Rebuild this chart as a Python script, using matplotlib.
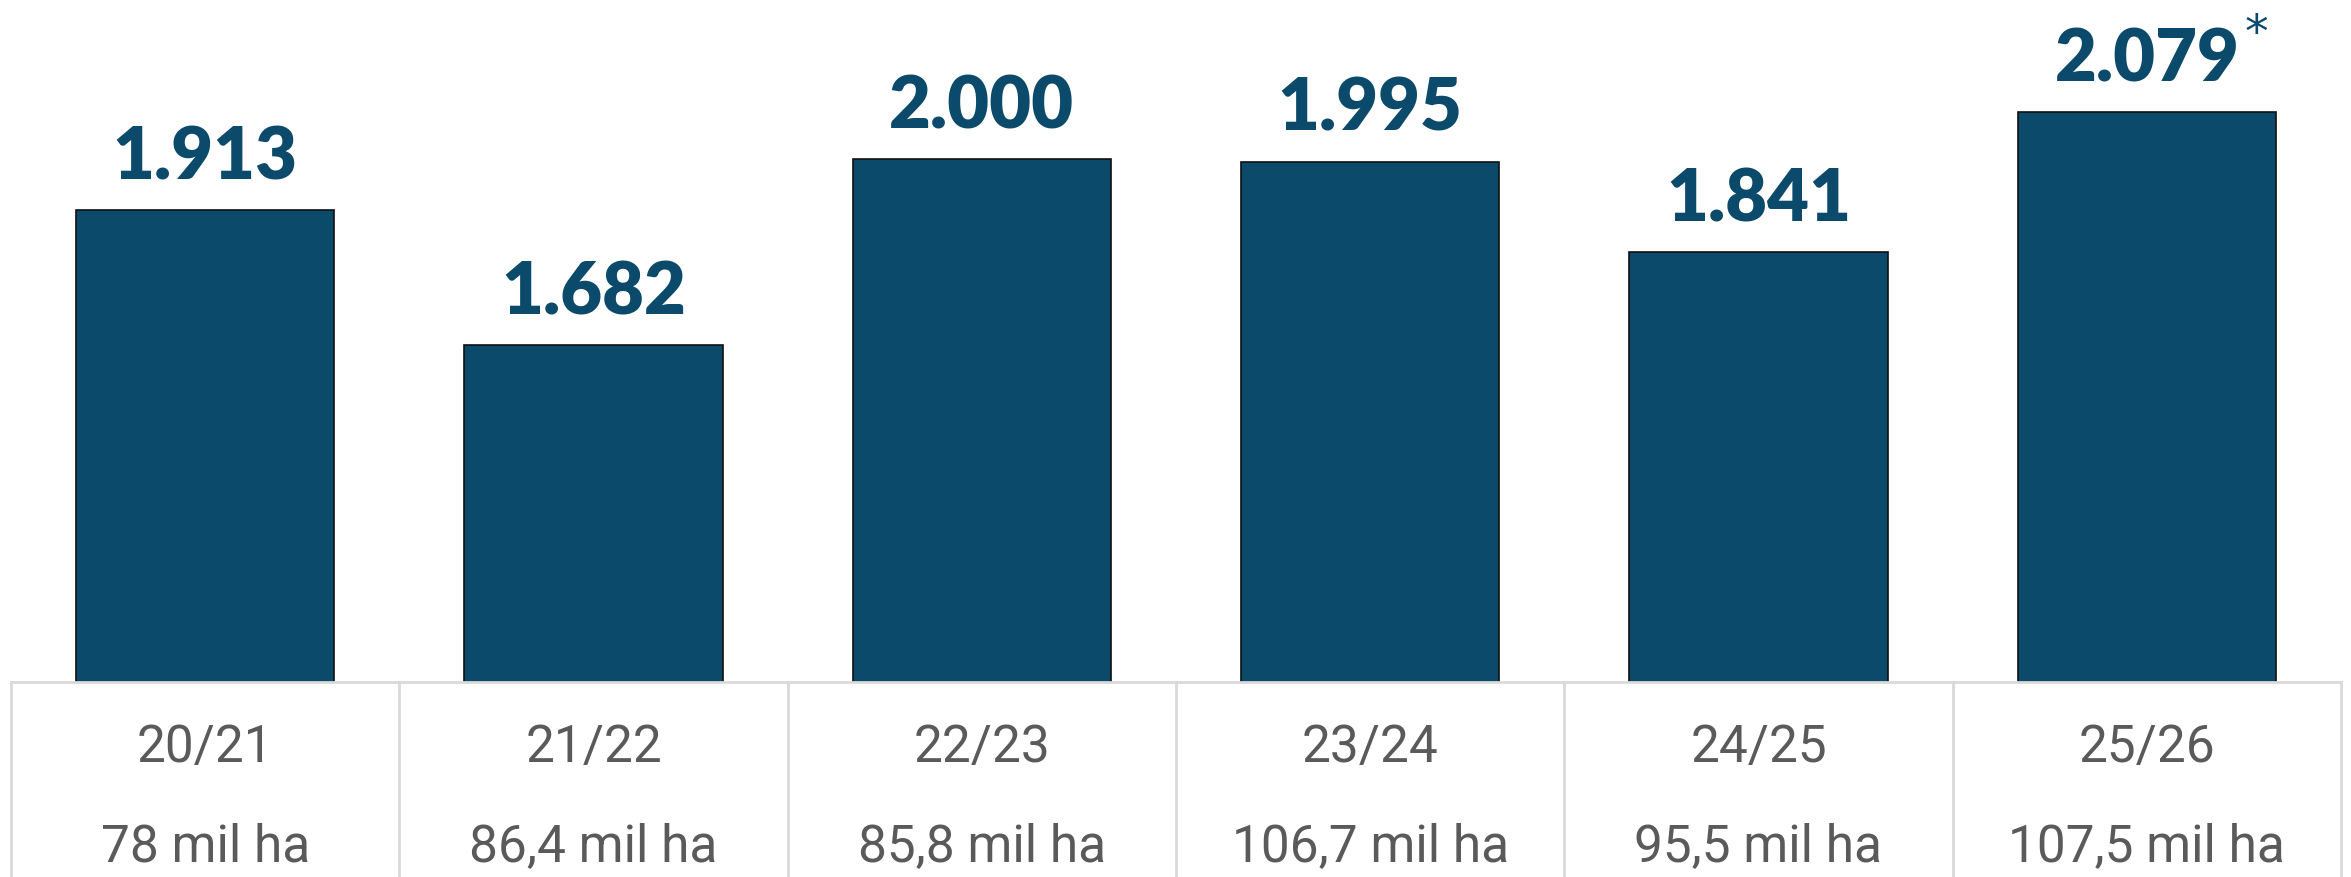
import matplotlib
matplotlib.use("Agg")
import matplotlib.pyplot as plt
import matplotlib.transforms as mtransforms
from matplotlib.lines import Line2D

seasons = ["20/21", "21/22", "22/23", "23/24", "24/25", "25/26"]
values = [1913, 1682, 2000, 1995, 1841, 2079]
value_labels = ["1.913", "1.682", "2.000", "1.995", "1.841", "2.079"]
areas = ["78 mil ha", "86,4 mil ha", "85,8 mil ha", "106,7 mil ha", "95,5 mil ha", "107,5 mil ha"]
flagged = [False, False, False, False, False, True]

W, H = 2351, 877
fig = plt.figure(figsize=(W / 100, H / 100), dpi=100)
fig.patch.set_facecolor("white")

ax_left = 11 / W
ax_right = 2341 / W
ax_bottom = 1 - 682 / H
ax = fig.add_axes([ax_left, ax_bottom, ax_right - ax_left, 1 - ax_bottom])
ax.set_xlim(-0.5, len(seasons) - 0.5)
ax.set_ylim(1109, 2270)
ax.axis("off")

bar_color = "#0b4a6a"
x = list(range(len(seasons)))
ax.bar(x, values, width=0.665, color=bar_color, edgecolor="#111111", linewidth=1.2,
       bottom=0, zorder=2)

for xi, v, lab, fl in zip(x, values, value_labels, flagged):
    ax.annotate(lab, (xi, v), xytext=(0, 22), textcoords="offset points",
                ha="center", va="baseline", fontsize=52, fontweight="heavy",
                family=["Lato", "DejaVu Sans"], color=bar_color)
    if fl:
        ax.annotate("*", (xi, v), xytext=(79, 47), textcoords="offset points",
                    ha="center", va="baseline", fontsize=34, fontweight="normal",
                    family=["DejaVu Sans"], color=bar_color)

# table below
trans = mtransforms.blended_transform_factory(ax.transData, fig.transFigure)
line_color = "#d9d9d9"
top_y = ax_bottom
fig.add_artist(Line2D([-0.5, len(seasons) - 0.5], [top_y, top_y], transform=trans,
                      color=line_color, linewidth=2, zorder=1))
for b in [i - 0.5 for i in range(len(seasons) + 1)]:
    fig.add_artist(Line2D([b, b], [top_y, 0], transform=trans,
                          color=line_color, linewidth=2, zorder=1))

for xi, s, a in zip(x, seasons, areas):
    fig.text(xi, 1 - 748 / H, s, transform=trans, ha="center", va="center",
             fontsize=37, family=["Roboto", "DejaVu Sans"], fontweight="normal", color="#5a5a5a")
    fig.text(xi, 1 - 847 / H, a, transform=trans, ha="center", va="center",
             fontsize=37, family=["Roboto", "DejaVu Sans"], fontweight="normal", color="#5a5a5a")

fig.savefig("out.png", dpi=100, facecolor="white")
